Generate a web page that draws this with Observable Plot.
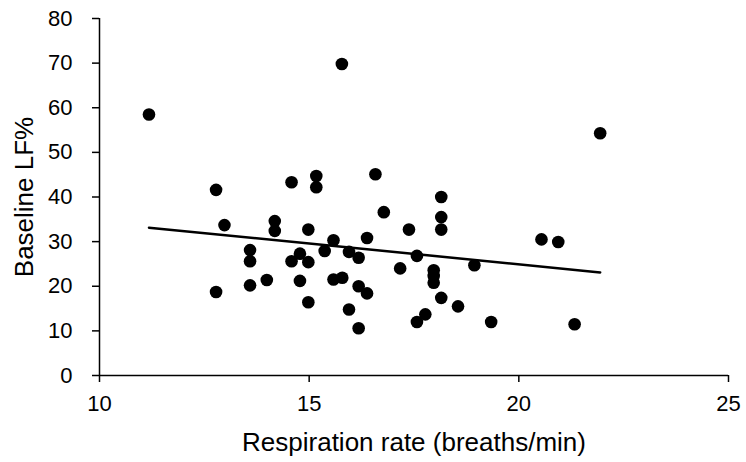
<!DOCTYPE html>
<html>
<head>
<meta charset="utf-8">
<script src="https://cdn.jsdelivr.net/npm/d3@7"></script>
<script src="https://cdn.jsdelivr.net/npm/@observablehq/plot@0.6"></script>
<style>
  html, body { margin: 0; padding: 0; background: #fff; }
</style>
</head>
<body>
<div id="chart"></div>
<script>
// Respiration rate (breaths/min)
const rate = [11.18, 12.78, 12.78, 12.98, 13.59, 13.59, 13.59, 13.99, 14.18, 14.18,
              14.58, 14.58, 14.78, 14.78, 14.98, 14.98, 14.98, 15.17, 15.17, 15.37,
              15.58, 15.58, 15.79, 15.78, 15.95, 15.95, 16.18, 16.18, 16.18, 16.38,
              16.38, 16.58, 16.78, 17.17, 17.38, 17.57, 17.57, 17.77, 17.97, 17.97,
              17.97, 18.15, 18.15, 18.15, 18.15, 18.55, 18.94, 19.34, 20.54, 20.94,
              21.33, 21.94];
// Baseline LF%
const lf = [58.5, 41.6, 18.7, 33.7, 28.1, 25.6, 20.2, 21.4, 34.6, 32.4,
            43.3, 25.6, 27.3, 21.2, 32.7, 25.4, 16.4, 44.7, 42.2, 27.9,
            30.3, 21.5, 21.9, 69.8, 27.7, 14.8, 26.4, 20.0, 10.6, 30.8,
            18.4, 45.1, 36.6, 24.0, 32.7, 26.8, 12.0, 13.7, 23.6, 22.3,
            20.8, 40.0, 35.5, 32.7, 17.4, 15.5, 24.7, 12.0, 30.5, 29.9,
            11.5, 54.3];
const xTicks = [10, 15, 20, 25];
const yTicks = [0, 10, 20, 30, 40, 50, 60, 70, 80];
const xTitle = "Respiration rate (breaths/min)";
const yTitle = "Baseline LF%";

const data = rate.map((x, i) => ({x, y: lf[i]}));
const font = "'Liberation Sans', Arial, sans-serif";

const chart = Plot.plot({
  width: 746,
  height: 462,
  marginLeft: 99,
  marginRight: 18,
  marginTop: 18,
  marginBottom: 87,
  style: {fontFamily: font, fontSize: "22px", color: "#000", background: "#fff"},
  x: {domain: [10, 25]},
  y: {domain: [0, 80]},
  marks: [
    Plot.axisX({ticks: xTicks, tickSize: 7, tickPadding: 13, label: null, stroke: "#000", strokeWidth: 1.5}),
    Plot.axisY({ticks: yTicks, tickSize: 7, tickPadding: 20, label: null, stroke: "#000", strokeWidth: 1.5}),
    Plot.ruleY([0], {stroke: "#000", strokeWidth: 1.5}),
    Plot.ruleX([10], {stroke: "#000", strokeWidth: 1.5}),
    Plot.linearRegressionY(data, {x: "x", y: "y", ci: 0, stroke: "#000", strokeWidth: 2.5}),
    Plot.dot(data, {x: "x", y: "y", r: 6.3, fill: "#000", stroke: null}),
    Plot.text([xTitle], {frameAnchor: "bottom", textAnchor: "middle", lineAnchor: "middle", dy: 67, fontSize: 26, fill: "#000", fontFamily: font}),
    Plot.text([yTitle], {frameAnchor: "left", textAnchor: "middle", lineAnchor: "middle", dx: -75, rotate: -90, fontSize: 26, fill: "#000", fontFamily: font})
  ]
});
document.getElementById("chart").appendChild(chart);
</script>
</body>
</html>
